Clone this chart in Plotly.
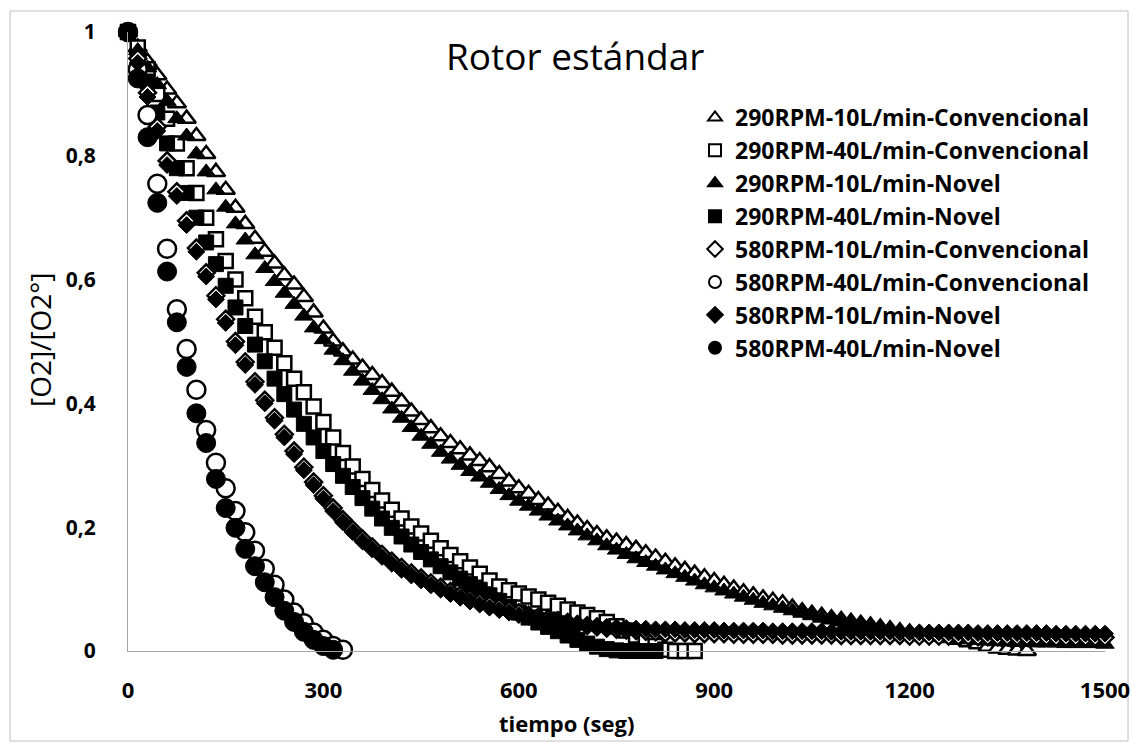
import plotly.graph_objects as go

# Sampling times (s), one reading every 15 s
tiempo = [0, 15, 30, 45, 60, 75, 90, 105, 120, 135, 150, 165, 180, 195, 210, 225, 240, 255, 270, 285,
          300, 315, 330, 345, 360, 375, 390, 405, 420, 435, 450, 465, 480, 495, 510, 525, 540, 555, 570, 585,
          600, 615, 630, 645, 660, 675, 690, 705, 720, 735, 750, 765, 780, 795, 810, 825, 840, 855, 870, 885,
          900, 915, 930, 945, 960, 975, 990, 1005, 1020, 1035, 1050, 1065, 1080, 1095, 1110, 1125, 1140, 1155, 1170, 1185,
          1200, 1215, 1230, 1245, 1260, 1275, 1290, 1305, 1320, 1335, 1350, 1365, 1380, 1395, 1410, 1425, 1440, 1455, 1470, 1485,
          1500]

# [O2]/[O2°] for each run
rpm290_10_conv = [1.000, 0.975, 0.952, 0.930, 0.907, 0.885, 0.860, 0.832, 0.803, 0.774,
                  0.745, 0.716, 0.690, 0.666, 0.645, 0.626, 0.607, 0.592, 0.572, 0.547,
                  0.521, 0.500, 0.484, 0.471, 0.458, 0.446, 0.433, 0.419, 0.403, 0.387,
                  0.373, 0.360, 0.347, 0.336, 0.326, 0.316, 0.307, 0.297, 0.286, 0.274,
                  0.263, 0.254, 0.244, 0.235, 0.225, 0.215, 0.206, 0.197, 0.189, 0.182,
                  0.177, 0.171, 0.165, 0.158, 0.151, 0.144, 0.137, 0.131, 0.125, 0.119,
                  0.113, 0.107, 0.101, 0.095, 0.090, 0.085, 0.081, 0.077, 0.070, 0.064,
                  0.060, 0.057, 0.053, 0.050, 0.047, 0.044, 0.041, 0.038, 0.035, 0.032,
                  0.030, 0.028, 0.025, 0.023, 0.021, 0.018, 0.014, 0.011, 0.007, 0.004,
                  0.002, 0.001, 0.000]

rpm290_40_conv = [1.000, 0.975, 0.940, 0.900, 0.860, 0.820, 0.780, 0.740, 0.700, 0.665,
                  0.630, 0.600, 0.570, 0.540, 0.515, 0.490, 0.465, 0.440, 0.418, 0.395,
                  0.370, 0.345, 0.320, 0.298, 0.278, 0.260, 0.243, 0.228, 0.214, 0.201,
                  0.190, 0.178, 0.166, 0.155, 0.145, 0.135, 0.125, 0.114, 0.104, 0.098,
                  0.093, 0.088, 0.083, 0.078, 0.073, 0.067, 0.062, 0.058, 0.053, 0.047,
                  0.040, 0.033, 0.025, 0.016, 0.008, 0.002, 0.000, 0.000, 0.000]

rpm290_10_novel = [1.000, 0.970, 0.942, 0.915, 0.888, 0.860, 0.832, 0.803, 0.774, 0.745,
                   0.717, 0.690, 0.664, 0.640, 0.618, 0.597, 0.578, 0.560, 0.541, 0.522,
                   0.503, 0.486, 0.469, 0.452, 0.436, 0.421, 0.406, 0.391, 0.376, 0.361,
                   0.347, 0.334, 0.321, 0.310, 0.300, 0.290, 0.281, 0.271, 0.261, 0.251,
                   0.242, 0.234, 0.226, 0.218, 0.210, 0.202, 0.194, 0.186, 0.178, 0.170,
                   0.163, 0.156, 0.149, 0.143, 0.137, 0.131, 0.125, 0.119, 0.113, 0.107,
                   0.102, 0.097, 0.092, 0.087, 0.082, 0.077, 0.073, 0.069, 0.065, 0.061,
                   0.057, 0.053, 0.050, 0.047, 0.044, 0.041, 0.038, 0.035, 0.033, 0.031,
                   0.029, 0.027, 0.025, 0.023, 0.021, 0.019, 0.018, 0.017, 0.016, 0.015,
                   0.015, 0.014, 0.014, 0.013, 0.013, 0.013, 0.012, 0.012, 0.012, 0.012,
                   0.011]

rpm290_40_novel = [1.000, 0.960, 0.920, 0.870, 0.820, 0.780, 0.740, 0.700, 0.660, 0.625,
                   0.590, 0.555, 0.525, 0.495, 0.468, 0.440, 0.415, 0.390, 0.367, 0.345,
                   0.323, 0.302, 0.283, 0.265, 0.247, 0.230, 0.214, 0.199, 0.185, 0.172,
                   0.160, 0.148, 0.137, 0.127, 0.117, 0.108, 0.099, 0.090, 0.081, 0.071,
                   0.062, 0.054, 0.046, 0.039, 0.032, 0.025, 0.018, 0.012, 0.007, 0.003,
                   0.001, 0.000, 0.000, 0.000, 0.000]

rpm580_10_conv = [1.000, 0.957, 0.902, 0.847, 0.792, 0.742, 0.695, 0.651, 0.611, 0.574,
                  0.536, 0.500, 0.467, 0.435, 0.405, 0.377, 0.350, 0.323, 0.297, 0.273,
                  0.251, 0.231, 0.212, 0.196, 0.181, 0.168, 0.156, 0.145, 0.135, 0.126,
                  0.118, 0.110, 0.103, 0.096, 0.090, 0.084, 0.079, 0.074, 0.070, 0.066,
                  0.062, 0.058, 0.055, 0.052, 0.049, 0.046, 0.043, 0.041, 0.039, 0.037,
                  0.035, 0.034, 0.033, 0.032, 0.031, 0.029, 0.029, 0.029, 0.028, 0.028,
                  0.028, 0.028, 0.027, 0.027, 0.027, 0.027, 0.027, 0.026, 0.026, 0.026,
                  0.026, 0.026, 0.026, 0.025, 0.025, 0.025, 0.025, 0.025, 0.025, 0.025,
                  0.024, 0.024, 0.024, 0.024, 0.024, 0.024, 0.024, 0.023, 0.023, 0.023,
                  0.023, 0.023, 0.023, 0.023, 0.023, 0.022, 0.022, 0.022, 0.022, 0.022,
                  0.022]

rpm580_40_conv = [1.000, 0.940, 0.866, 0.755, 0.650, 0.552, 0.488, 0.422, 0.357, 0.304,
                  0.263, 0.226, 0.192, 0.162, 0.133, 0.107, 0.083, 0.062, 0.045, 0.030,
                  0.018, 0.008, 0.002]

rpm580_10_novel = [1.000, 0.950, 0.895, 0.840, 0.785, 0.735, 0.688, 0.645, 0.605, 0.568,
                   0.530, 0.494, 0.462, 0.430, 0.400, 0.372, 0.345, 0.318, 0.292, 0.268,
                   0.246, 0.226, 0.208, 0.192, 0.177, 0.164, 0.152, 0.141, 0.131, 0.122,
                   0.114, 0.106, 0.099, 0.092, 0.086, 0.080, 0.075, 0.070, 0.066, 0.062,
                   0.058, 0.055, 0.052, 0.049, 0.047, 0.045, 0.043, 0.041, 0.040, 0.039,
                   0.038, 0.037, 0.036, 0.036, 0.035, 0.035, 0.035, 0.034, 0.034, 0.034,
                   0.034, 0.033, 0.033, 0.033, 0.033, 0.033, 0.032, 0.032, 0.032, 0.032,
                   0.032, 0.032, 0.031, 0.031, 0.031, 0.031, 0.031, 0.031, 0.031, 0.030,
                   0.030, 0.030, 0.030, 0.030, 0.030, 0.030, 0.030, 0.029, 0.029, 0.029,
                   0.029, 0.029, 0.029, 0.029, 0.029, 0.028, 0.028, 0.028, 0.028, 0.028,
                   0.028]

rpm580_40_novel = [1.000, 0.925, 0.830, 0.724, 0.613, 0.531, 0.459, 0.384, 0.336, 0.278,
                   0.231, 0.199, 0.165, 0.137, 0.111, 0.087, 0.065, 0.047, 0.031, 0.018,
                   0.008, 0.002]

series = [
    ("290RPM-10L/min-Convencional", rpm290_10_conv, "triangle-up", "white", 16),
    ("290RPM-40L/min-Convencional", rpm290_40_conv, "square", "white", 14),
    ("290RPM-10L/min-Novel", rpm290_10_novel, "triangle-up", "black", 16),
    ("290RPM-40L/min-Novel", rpm290_40_novel, "square", "black", 15),
    ("580RPM-10L/min-Convencional", rpm580_10_conv, "diamond", "white", 13),
    ("580RPM-40L/min-Convencional", rpm580_40_conv, "circle", "white", 18),
    ("580RPM-10L/min-Novel", rpm580_10_novel, "diamond", "black", 13),
    ("580RPM-40L/min-Novel", rpm580_40_novel, "circle", "black", 19),
]

FONT = "Open Sans"

fig = go.Figure()
for i, (name, vals, symbol, fill, size) in enumerate(series):
    fig.add_trace(go.Scatter(
        x=tiempo[:len(vals)], y=vals, name=name, mode="markers",
        legendgroup=f"g{i}", cliponaxis=False,
        marker=dict(symbol=symbol, size=size, color=fill,
                    line=dict(color="black", width=2.5 if fill == "white" else 1)),
    ))

# paper-coordinate helpers for a plot area spanning px 128..1105 (x) and 32..651 (y)
def px_x(p):
    return (p - 128) / 977.0

def px_y(p):
    return (651 - p) / 619.0

fig.update_layout(
    width=1132, height=743,
    margin=dict(l=128, r=27, t=32, b=92, autoexpand=False),
    paper_bgcolor="white", plot_bgcolor="white",
    separators=",.",
    font=dict(family=FONT, color="black"),
    showlegend=True,
    legend=dict(
        x=px_x(695), y=px_y(96), xanchor="left", yanchor="top",
        bgcolor="rgba(0,0,0,0)", borderwidth=0,
        font=dict(family=FONT, size=23, color="black", weight="bold"),
        itemsizing="constant", tracegroupgap=0, itemwidth=30,
    ),
    xaxis=dict(
        range=[0, 1500], tickvals=[0, 300, 600, 900, 1200, 1500],
        showgrid=False, zeroline=False, showline=True, automargin=False,
        linecolor="#a6a6a6", linewidth=1,
        ticks="outside", ticklen=20, tickcolor="rgba(0,0,0,0)",
        tickfont=dict(family=FONT, size=22, color="black", weight="bold"),
    ),
    yaxis=dict(
        range=[0, 1], tickvals=[0, 0.2, 0.4, 0.6, 0.8, 1],
        showgrid=False, zeroline=False, showline=True, automargin=False,
        linecolor="#a6a6a6", linewidth=1,
        ticks="outside", ticklen=27, tickcolor="rgba(0,0,0,0)",
        tickfont=dict(family=FONT, size=21, color="black", weight="bold"),
    ),
    annotations=[
        dict(text="Rotor estándar", x=px_x(575), y=px_y(55), xref="paper", yref="paper",
             xanchor="center", yanchor="middle",
             showarrow=False, font=dict(family=FONT, size=37, color="black")),
        dict(text="tiempo (seg)", x=px_x(566), y=px_y(723), xref="paper", yref="paper",
             xanchor="center", yanchor="middle",
             showarrow=False, font=dict(family=FONT, size=22, color="black", weight="bold")),
        dict(text="[O2]/[O2°]", x=px_x(40), y=px_y(340), xref="paper", yref="paper",
             xanchor="center", yanchor="middle",
             showarrow=False, textangle=-90,
             font=dict(family=FONT, size=28, color="black")),
    ],
    shapes=[
        dict(type="rect", xref="paper", yref="paper",
             x0=px_x(10), x1=px_x(1128), y0=px_y(741), y1=px_y(11),
             line=dict(color="#c0c0c0", width=1), fillcolor="rgba(0,0,0,0)", layer="below"),
    ],
)

fig.write_html("out.html")
